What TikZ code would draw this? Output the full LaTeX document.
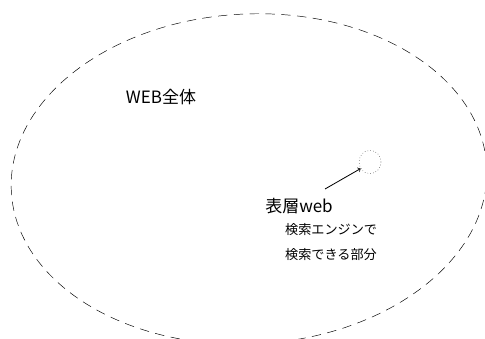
\documentclass[tikz,border=0pt]{standalone}
\usepackage{fontspec}
\setmainfont{Noto Sans CJK JP}
\usetikzlibrary{shapes.geometric}
\usetikzlibrary{positioning}

\begin{document}
\begin{tikzpicture}[x=0.03cm,y=-0.03cm,
    whole/.style={ellipse, draw, dash pattern=on 8pt off 5.5pt, minimum width=14.28cm, minimum height=9.9cm, rotate=3},
    surface/.style={ellipse, draw, dotted, minimum width=0.66cm, minimum height=0.7cm, inner sep=0pt},
    bigtext/.style={font=\fontsize{14.5}{16}\selectfont, inner sep=0pt},
    smalltext/.style={font=\fontsize{11.2}{13}\selectfont, inner sep=0pt, anchor=west}]
    \clip (0,0) rectangle (485,338);
    \node[whole] (web) at (249,179) {};
    \node[surface] (surf) at (370,162) {};
    \node[bigtext] (all) at (161,97) {WEB全体};
    \node[bigtext] (shallow) at (299,206) {表層web};
    \node[smalltext] (line1) at (285,230) {検索エンジンで};
    \node[smalltext] (line2) at (285,255) {検索できる部分};
    \coordinate (tail) at (325,189);
    \draw[->, line width=0.7pt] (tail) -- (surf.215);
\end{tikzpicture}
\end{document}
